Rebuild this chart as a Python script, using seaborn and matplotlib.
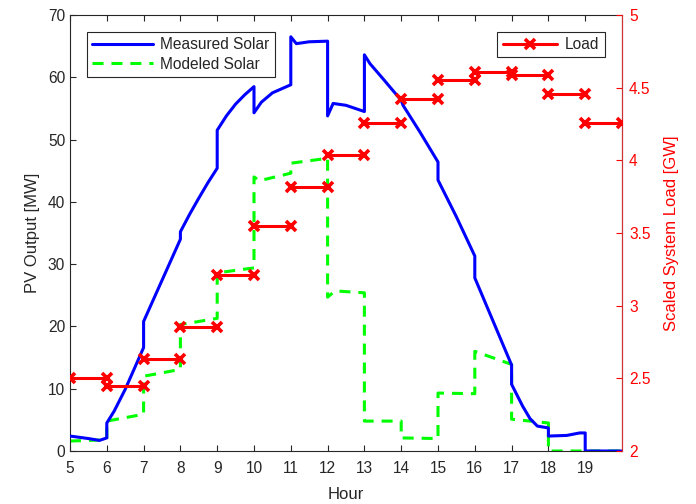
import numpy as np
import pandas as pd
import matplotlib
matplotlib.use("Agg")
import matplotlib.pyplot as plt
from matplotlib.lines import Line2D
import seaborn as sns

# ---------------- data ----------------
measured_hour = [5.0, 5.5, 5.8, 6.0, 6.0, 6.2, 6.5, 7.0, 7.0, 7.5, 8.0, 8.0, 8.25, 8.5, 8.75,
                 9.0, 9.0, 9.25, 9.5, 9.75, 10.0, 10.0, 10.2, 10.5, 11.0, 11.0, 11.15, 11.5,
                 12.0, 12.0, 12.15, 12.5, 13.0, 13.0, 13.15, 13.5, 14.0, 14.05, 14.5, 15.0,
                 15.0, 15.5, 16.0, 16.0, 16.5, 17.0, 17.0, 17.3, 17.5, 17.7, 18.0, 18.0,
                 18.5, 18.85, 19.0, 19.0, 20.0]
measured_mw = [2.4, 2.0, 1.7, 2.1, 4.5, 6.4, 9.9, 16.6, 20.8, 27.4, 34.0, 35.2, 38.0, 40.6, 43.1,
               45.4, 51.5, 53.8, 55.7, 57.2, 58.5, 54.3, 56.0, 57.5, 58.8, 66.5, 65.4, 65.7,
               65.8, 53.8, 55.8, 55.5, 54.5, 63.6, 62.2, 59.8, 56.3, 55.5, 51.3, 46.4,
               43.5, 37.6, 31.3, 27.8, 20.8, 13.8, 10.7, 7.2, 5.2, 4.0, 3.7, 2.4,
               2.5, 2.9, 2.9, 0.0, 0.0]

modeled_hour = [5.0, 6.0, 6.0, 7.0, 7.0, 8.0, 8.0, 9.0, 9.0, 10.0, 10.0, 10.15, 11.0, 11.0,
                12.0, 12.0, 12.2, 13.0, 13.0, 14.0, 14.0, 15.0, 15.0, 16.0, 16.0, 17.0,
                17.0, 18.0, 18.0, 19.0, 20.0]
modeled_mw = [1.6, 1.8, 4.8, 5.9, 12.0, 13.1, 20.3, 21.3, 28.6, 29.4, 44.0, 43.4, 44.6, 46.2,
              47.0, 24.7, 25.7, 25.4, 4.8, 4.8, 2.1, 2.0, 9.3, 9.2, 16.0, 13.9,
              5.1, 4.5, 0.0, 0.0, 0.0]

load_start_hour = [5, 6, 7, 8, 9, 10, 11, 12, 13, 14, 15, 16, 17, 18, 19]
load_gw = [2.50, 2.445, 2.635, 2.85, 3.21, 3.545, 3.815, 4.04, 4.255, 4.425,
           4.55, 4.61, 4.59, 4.455, 4.255]

x_ticks = [5, 6, 7, 8, 9, 10, 11, 12, 13, 14, 15, 16, 17, 18, 19]
left_ticks = [0, 10, 20, 30, 40, 50, 60, 70]
right_ticks = [2, 2.5, 3, 3.5, 4, 4.5, 5]
right_tick_labels = ["2", "2.5", "3", "3.5", "4", "4.5", "5"]

# ---------------- style ----------------
sns.set_style("white")
plt.rcParams["font.family"] = ["Liberation Sans", "DejaVu Sans"]
plt.rcParams["font.size"] = 11

dark = "#262626"
fs = 11.2
fig = plt.figure(figsize=(6.96, 5.04), dpi=100)
ax = fig.add_axes([70 / 696, 1 - 451 / 504, 552 / 696, 436 / 504])

df_meas = pd.DataFrame({"hour": measured_hour, "mw": measured_mw})
df_mod = pd.DataFrame({"hour": modeled_hour, "mw": modeled_mw})

sns.lineplot(data=df_meas, x="hour", y="mw", sort=False, estimator=None,
             color="#0000ff", linewidth=2.2, ax=ax, zorder=3)
sns.lineplot(data=df_mod, x="hour", y="mw", sort=False, estimator=None,
             color="#00ff00", linewidth=2.2, ax=ax, zorder=2,
             dashes=False, linestyle=(0, (3.6, 2.6)))

ax.set_xlim(5, 20)
ax.set_ylim(0, 70)
ax.set_xticks(x_ticks)
ax.set_yticks(left_ticks)
ax.set_xlabel("Hour", color=dark, fontsize=12, labelpad=8)
ax.set_ylabel("PV Output [MW]", color=dark, fontsize=12, labelpad=6)
ax.tick_params(axis="both", direction="in", length=4, width=0.8, colors=dark,
               labelsize=fs, top=True, right=True, bottom=True, left=True)
ax.tick_params(axis="x", pad=7)
for s in ["left", "top", "bottom"]:
    ax.spines[s].set_color(dark)
    ax.spines[s].set_linewidth(0.8)
ax.spines["right"].set_visible(False)

# ---------------- right axis ----------------
ax2 = ax.twinx()
seg_hour, seg_load, seg_id = [], [], []
for i, (h, v) in enumerate(zip(load_start_hour, load_gw)):
    seg_hour += [h, h + 1]
    seg_load += [v, v]
    seg_id += [i, i]
df_load = pd.DataFrame({"hour": seg_hour, "load": seg_load, "seg": seg_id})
sns.lineplot(data=df_load, x="hour", y="load", units="seg", estimator=None,
             color="#ff0000", linewidth=2.2, marker="x", markersize=7.5,
             markeredgewidth=2.6, markeredgecolor="#ff0000", ax=ax2,
             legend=False, zorder=4)
ax2.set_ylim(2, 5)
ax2.set_xlim(5, 20)
ax2.set_yticks(right_ticks)
ax2.set_yticklabels(right_tick_labels)
ax2.set_ylabel("Scaled System Load [GW]", color="#ff0000", fontsize=12, labelpad=10)
ax2.tick_params(axis="y", direction="in", length=4, width=0.8, colors="#ff0000",
                labelsize=fs, right=True, left=False, labelcolor="#ff0000", pad=5)
for s in ["left", "top", "bottom"]:
    ax2.spines[s].set_visible(False)
ax2.spines["right"].set_color("#cc3333")
ax2.spines["right"].set_linewidth(0.9)
ax2.set_xlabel("")

# ---------------- legends ----------------
h1 = [Line2D([], [], color="#0000ff", lw=2.2),
      Line2D([], [], color="#00ff00", lw=2.2, linestyle=(0, (3.6, 2.6)))]
leg1 = ax2.legend(h1, ["Measured Solar", "Modeled Solar"], loc="upper left",
                  bbox_to_anchor=(0.030, 0.962), fancybox=False, framealpha=1,
                  edgecolor=dark, handlelength=3.9, handletextpad=0.5,
                  borderpad=0.35, labelspacing=0.3, fontsize=fs, borderaxespad=0)
leg1.get_frame().set_linewidth(0.8)
ax2.add_artist(leg1)
h2 = [Line2D([], [], color="#ff0000", lw=2.2, marker="x", markersize=7.5,
             markeredgewidth=2.6)]
leg2 = ax2.legend(h2, ["Load"], loc="upper right", bbox_to_anchor=(0.969, 0.962),
                  fancybox=False, framealpha=1, edgecolor=dark, handlelength=3.5,
                  handletextpad=0.5, borderpad=0.35, fontsize=fs, borderaxespad=0)
leg2.get_frame().set_linewidth(0.8)

fig.savefig("out.png", dpi=100)
